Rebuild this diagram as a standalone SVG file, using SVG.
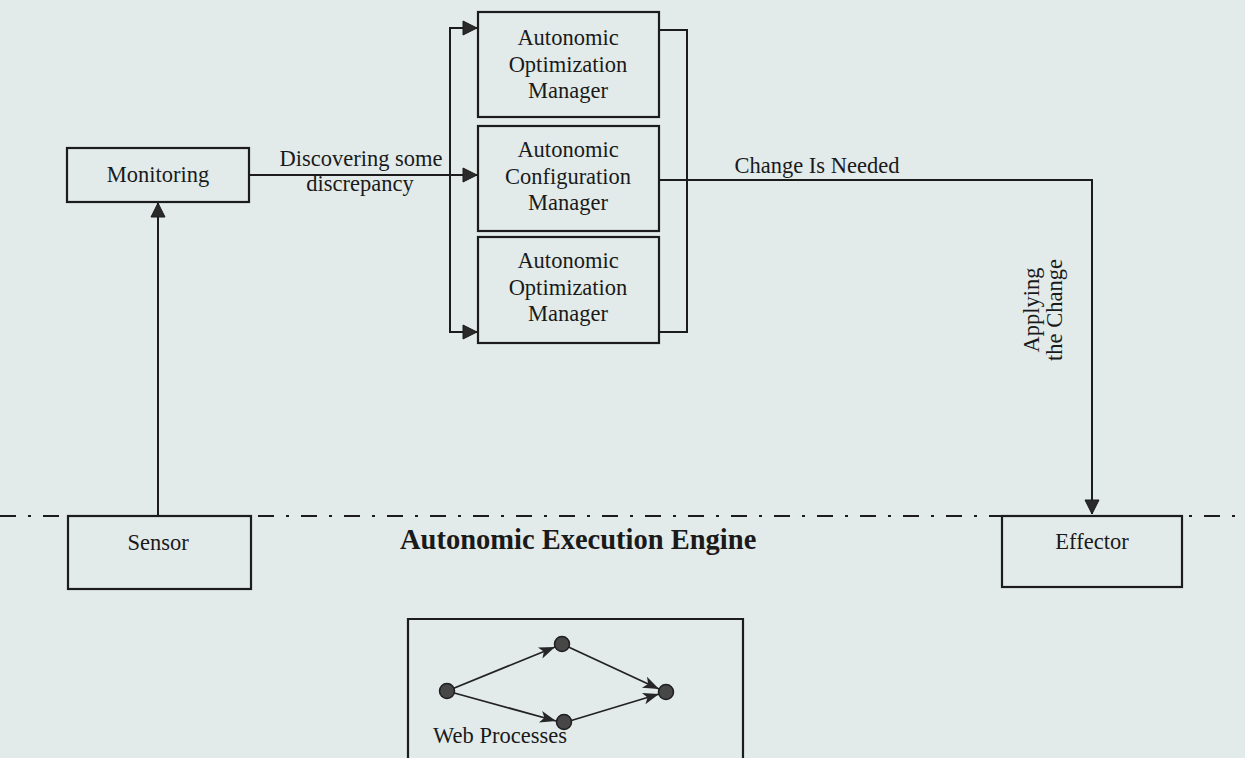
<svg xmlns="http://www.w3.org/2000/svg" width="1245" height="758" viewBox="0 0 1245 758">
  <defs>
    <style>
      .box { fill: none; stroke: #1c1c1c; stroke-width: 2.2; }
      .ln { fill: none; stroke: #1c1c1c; stroke-width: 2; }
      .thin { fill: none; stroke: #222; stroke-width: 1.8; }
      .t { font-family: "Liberation Serif", "Times New Roman", serif; font-size: 22.5px; fill: #1a1a1a; text-anchor: middle; }
      .title { font-family: "Liberation Serif", "Times New Roman", serif; font-size: 28.5px; font-weight: bold; fill: #1a1a1a; }
      .axis { fill: none; stroke: #1c1c1c; stroke-width: 2.2; stroke-dasharray: 16 12 3 12; }
      .node { fill: #474747; stroke: #1e1e1e; stroke-width: 1.5; }
    </style>
    <marker id="arrow" markerUnits="userSpaceOnUse" markerWidth="16" markerHeight="16" viewBox="0 0 16 16" refX="15" refY="8" orient="auto">
      <path d="M1,1 L15,8 L1,15 Z" fill="#2a2a2a" stroke="#1c1c1c" stroke-width="1"/>
    </marker>
    <marker id="barb" markerUnits="userSpaceOnUse" markerWidth="18" markerHeight="14" viewBox="0 0 18 14" refX="17" refY="7" orient="auto">
      <path d="M1,1 L17,7 L1,13 L5,7 Z" fill="#262626"/>
    </marker>
  </defs>

  <rect x="0" y="0" width="1245" height="758" fill="#e2ebea"/>

  <!-- boundary of the execution engine -->
  <line class="axis" x1="0" y1="516" x2="1245" y2="516"/>

  <g id="connectors">
    <!-- sensor up to monitoring -->
    <line class="ln" x1="158" y1="516" x2="158" y2="203" marker-end="url(#arrow)"/>
    <!-- monitoring to the managers -->
    <line class="ln" x1="249" y1="175" x2="477" y2="175" marker-end="url(#arrow)"/>
    <polyline class="ln" points="477,28 450,28 450,332 477,332"/>
    <line class="ln" x1="450" y1="28" x2="477" y2="28" marker-end="url(#arrow)"/>
    <line class="ln" x1="450" y1="332" x2="477" y2="332" marker-end="url(#arrow)"/>
    <!-- managers joined on the right -->
    <polyline class="ln" points="659,30 687,30 687,332 659,332"/>
    <!-- change is needed, applied through the effector -->
    <polyline class="ln" points="659,180 1092,180 1092,514" marker-end="url(#arrow)"/>
  </g>

  <g id="labels">
    <text class="t" x="361" y="166">Discovering some</text>
    <text class="t" x="360" y="191">discrepancy</text>
    <text class="t" x="817" y="173">Change Is Needed</text>
    <text class="t" transform="translate(1039,310) rotate(-90)">Applying</text>
    <text class="t" transform="translate(1062,310) rotate(-90)">the Change</text>
  </g>

  <g id="monitoring">
    <rect class="box" x="67" y="148" width="182" height="54"/>
    <text class="t" x="158" y="182">Monitoring</text>
  </g>

  <g id="optimization-manager-1">
    <rect class="box" x="478" y="12" width="181" height="105"/>
    <text class="t" x="568" y="45">Autonomic</text>
    <text class="t" x="568" y="72">Optimization</text>
    <text class="t" x="568" y="98">Manager</text>
  </g>

  <g id="configuration-manager">
    <rect class="box" x="478" y="126" width="181" height="105"/>
    <text class="t" x="568" y="157">Autonomic</text>
    <text class="t" x="568" y="184">Configuration</text>
    <text class="t" x="568" y="210">Manager</text>
  </g>

  <g id="optimization-manager-2">
    <rect class="box" x="478" y="237" width="181" height="106"/>
    <text class="t" x="568" y="268">Autonomic</text>
    <text class="t" x="568" y="295">Optimization</text>
    <text class="t" x="568" y="321">Manager</text>
  </g>

  <g id="sensor">
    <rect class="box" x="68" y="516" width="183" height="73"/>
    <text class="t" x="158" y="550">Sensor</text>
  </g>

  <g id="effector">
    <rect class="box" x="1002" y="516" width="180" height="71"/>
    <text class="t" x="1092" y="549">Effector</text>
  </g>

  <g id="engine-title">
    <text class="title" x="400" y="549">Autonomic Execution Engine</text>
  </g>

  <g id="web-processes">
    <path class="box" d="M408,770 L408,619 L743,619 L743,770"/>
    <line class="thin" x1="447" y1="691" x2="555" y2="647" marker-end="url(#barb)"/>
    <line class="thin" x1="447" y1="691" x2="556" y2="721" marker-end="url(#barb)"/>
    <line class="thin" x1="562" y1="644" x2="659" y2="689" marker-end="url(#barb)"/>
    <line class="thin" x1="563" y1="723" x2="659" y2="694" marker-end="url(#barb)"/>
    <circle class="node" cx="447" cy="691" r="7.5"/>
    <circle class="node" cx="562" cy="644" r="7.5"/>
    <circle class="node" cx="564" cy="722" r="7.5"/>
    <circle class="node" cx="666" cy="692" r="7.5"/>
    <text class="t" x="500" y="743">Web Processes</text>
  </g>
</svg>
